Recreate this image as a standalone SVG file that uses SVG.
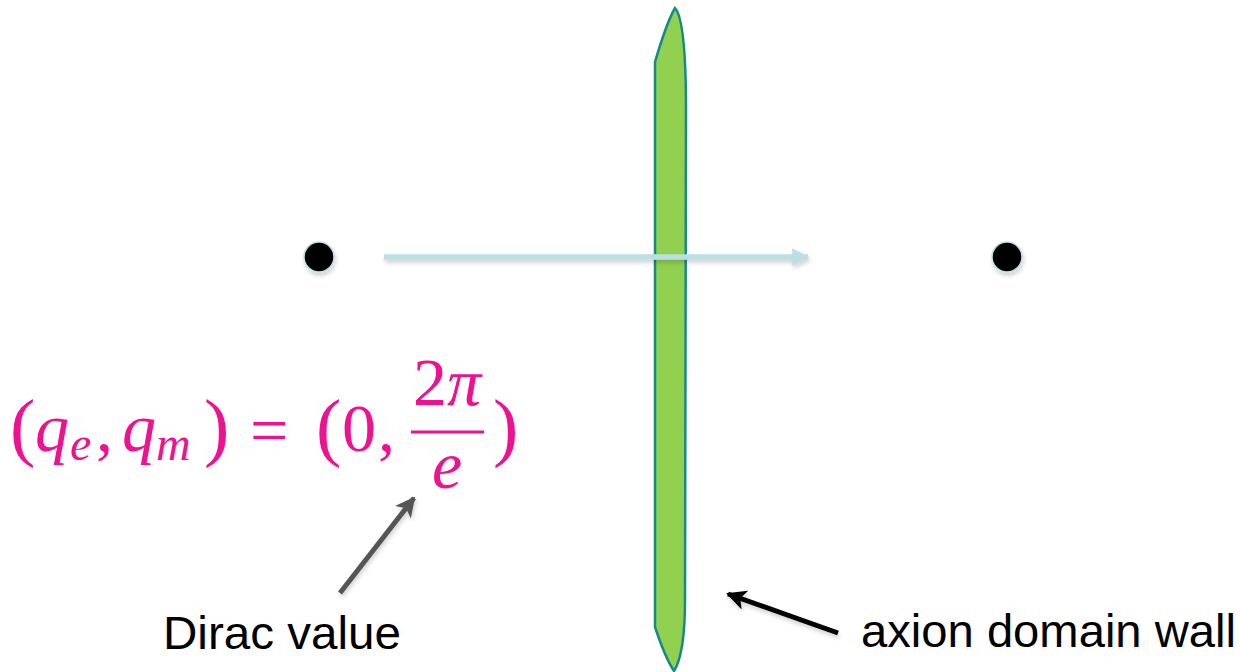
<svg xmlns="http://www.w3.org/2000/svg" width="1240" height="672" viewBox="0 0 1240 672">
  <defs>
    <filter id="sh" x="-30%" y="-30%" width="160%" height="160%">
      <feDropShadow dx="1" dy="3" stdDeviation="2" flood-color="#000" flood-opacity="0.18"/>
    </filter>
    <filter id="shl" filterUnits="userSpaceOnUse" x="0" y="0" width="1240" height="672">
      <feDropShadow dx="1" dy="3" stdDeviation="2" flood-color="#000" flood-opacity="0.18"/>
    </filter>
    <marker id="mBlue" viewBox="0 0 10 10" refX="9" refY="5" markerWidth="3.2" markerHeight="3.2" orient="auto" markerUnits="strokeWidth">
      <path d="M0,0 L10,5 L0,10 Z" fill="#bcdfe3"/>
    </marker>
    <marker id="mGray" viewBox="0 0 10 10" refX="9" refY="5" markerWidth="4" markerHeight="4" orient="auto" markerUnits="strokeWidth">
      <path d="M0,0 L10,5 L0,10 L2.5,5 Z" fill="#555555"/>
    </marker>
    <marker id="mBlack" viewBox="0 0 10 10" refX="9" refY="5" markerWidth="4" markerHeight="4" orient="auto" markerUnits="strokeWidth">
      <path d="M0,0 L10,5 L0,10 L2.5,5 Z" fill="#000000"/>
    </marker>
  </defs>
  <style>
    .m { fill: #ee1190; font-family: "Liberation Serif", "DejaVu Serif", serif; font-size: 68px; }
    .it { font-style: italic; }
    .p { font-size: 76px; font-style: normal; }
    .sub { font-size: 48px; font-style: italic; }
    .lbl { fill: #000; font-family: "Liberation Sans", Arial, sans-serif; font-size: 46px; }
    .dot { fill: #000; stroke: #bfe3e6; stroke-width: 1.5; }
  </style>
  <rect width="1240" height="672" fill="#ffffff"/>

  <g id="charge-left">
    <circle class="dot" cx="319" cy="257" r="15" filter="url(#sh)"/>
  </g>
  <g id="charge-right">
    <circle class="dot" cx="1007" cy="257" r="15" filter="url(#sh)"/>
  </g>

  <g id="domain-wall">
    <path d="M675,8 C668,20 660,45 655,62 L655,627 C661,645 668,662 674,671 C681,660 685,640 685,600 L686,110 C686,60 684,18 675,8 Z"
          fill="#92d050" stroke="#168a86" stroke-width="2.5"/>
  </g>

  <g id="connectors" filter="url(#shl)">
    <line x1="384" y1="257" x2="808" y2="257" stroke="#bcdfe3" stroke-width="5.5" marker-end="url(#mBlue)"/>
    <line x1="340" y1="593" x2="414" y2="498" stroke="#555555" stroke-width="5" marker-end="url(#mGray)"/>
    <line x1="838" y1="633" x2="728" y2="594" stroke="#000000" stroke-width="5" marker-end="url(#mBlack)"/>
  </g>

  <g id="formula">
    <text class="m"><tspan class="p" x="10" y="452">(</tspan><tspan class="it" x="35" y="451">q</tspan><tspan class="sub" x="70" y="460">e</tspan><tspan x="96" y="451">,</tspan><tspan class="it" x="122" y="451">q</tspan><tspan class="sub" x="156" y="460" font-size="53">m</tspan><tspan class="p" x="204" y="452">)</tspan><tspan x="250" y="453">=</tspan><tspan class="p" x="316" y="452">(</tspan><tspan x="342" y="451">0</tspan><tspan x="378" y="451">,</tspan><tspan x="493" y="452" class="p">)</tspan></text>
    <text class="m" x="447" y="405" text-anchor="middle" font-size="64">2<tspan class="it">π</tspan></text>
    <rect x="411" y="430.5" width="73" height="3" fill="#ee1190"/>
    <text class="m it" x="447" y="488" text-anchor="middle" font-size="66">e</text>
  </g>

  <g id="label-dirac">
    <text class="lbl" x="163" y="649" textLength="238" lengthAdjust="spacingAndGlyphs">Dirac value</text>
  </g>
  <g id="label-wall">
    <text class="lbl" x="861" y="647" textLength="375" lengthAdjust="spacingAndGlyphs">axion domain wall</text>
  </g>
</svg>
